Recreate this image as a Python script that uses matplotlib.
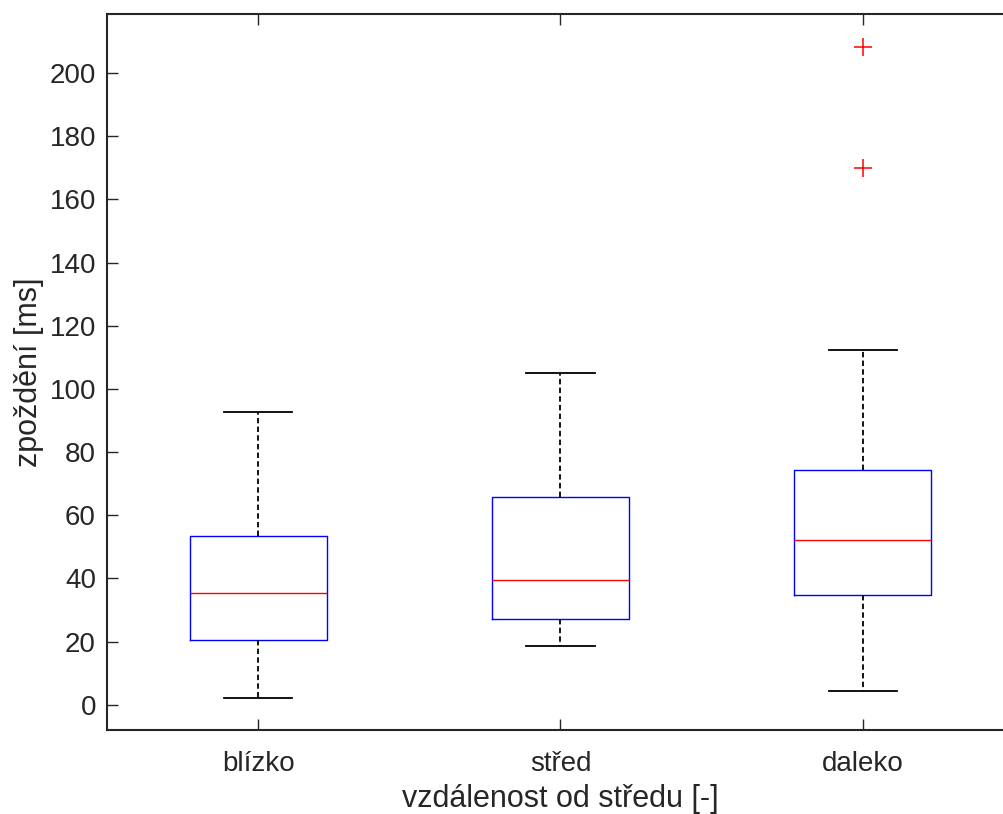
import matplotlib.pyplot as plt

categories = ['blízko', 'střed', 'daleko']
whislo = [2.2, 18.7, 4.4]
q1 = [20.6, 27.2, 34.8]
med = [35.4, 39.6, 52.2]
q3 = [53.5, 65.8, 74.4]
whishi = [92.7, 105.1, 112.3]
fliers = [[], [], [169.9, 208.2]]

plt.rcParams['font.family'] = ['Liberation Sans', 'DejaVu Sans']

stats = []
for i, name in enumerate(categories):
    stats.append(dict(label=name, whislo=whislo[i], q1=q1[i], med=med[i],
                      q3=q3[i], whishi=whishi[i], fliers=fliers[i]))

fig = plt.figure(figsize=(10.04, 8.14), dpi=100)
ax = fig.add_axes([107 / 1004, 84 / 814, 907 / 1004, 716 / 814])

ax.bxp(stats, positions=[1, 2, 3], widths=0.454,
       boxprops=dict(color='blue', linewidth=1.0),
       medianprops=dict(color='red', linewidth=1.0),
       whiskerprops=dict(color='black', linestyle=(0, (3, 1.8)), linewidth=1.3),
       capprops=dict(color='black', linewidth=1.3),
       capwidths=0.227,
       flierprops=dict(marker='+', markeredgecolor='red', markersize=13,
                       markeredgewidth=1.1, linestyle='none'))

ax.set_xlim(0.5, 3.5)
ax.set_ylim(-8, 218.7)
ax.set_yticks(range(0, 201, 20))
ax.set_xticks([1, 2, 3])
ax.set_xticklabels(categories)

dark = '#262626'
for s in ax.spines.values():
    s.set_color(dark)
    s.set_linewidth(1.5)
ax.tick_params(direction='in', top=True, right=True, length=8, width=1.0,
               colors=dark, labelsize=20, pad=8)
ax.tick_params(axis='x', pad=15)

ax.set_xlabel('vzdálenost od středu [-]', fontsize=22, color=dark, labelpad=5)
ax.set_ylabel('zpoždění [ms]', fontsize=22, color=dark, labelpad=4)

fig.savefig('out.png', dpi=100)
